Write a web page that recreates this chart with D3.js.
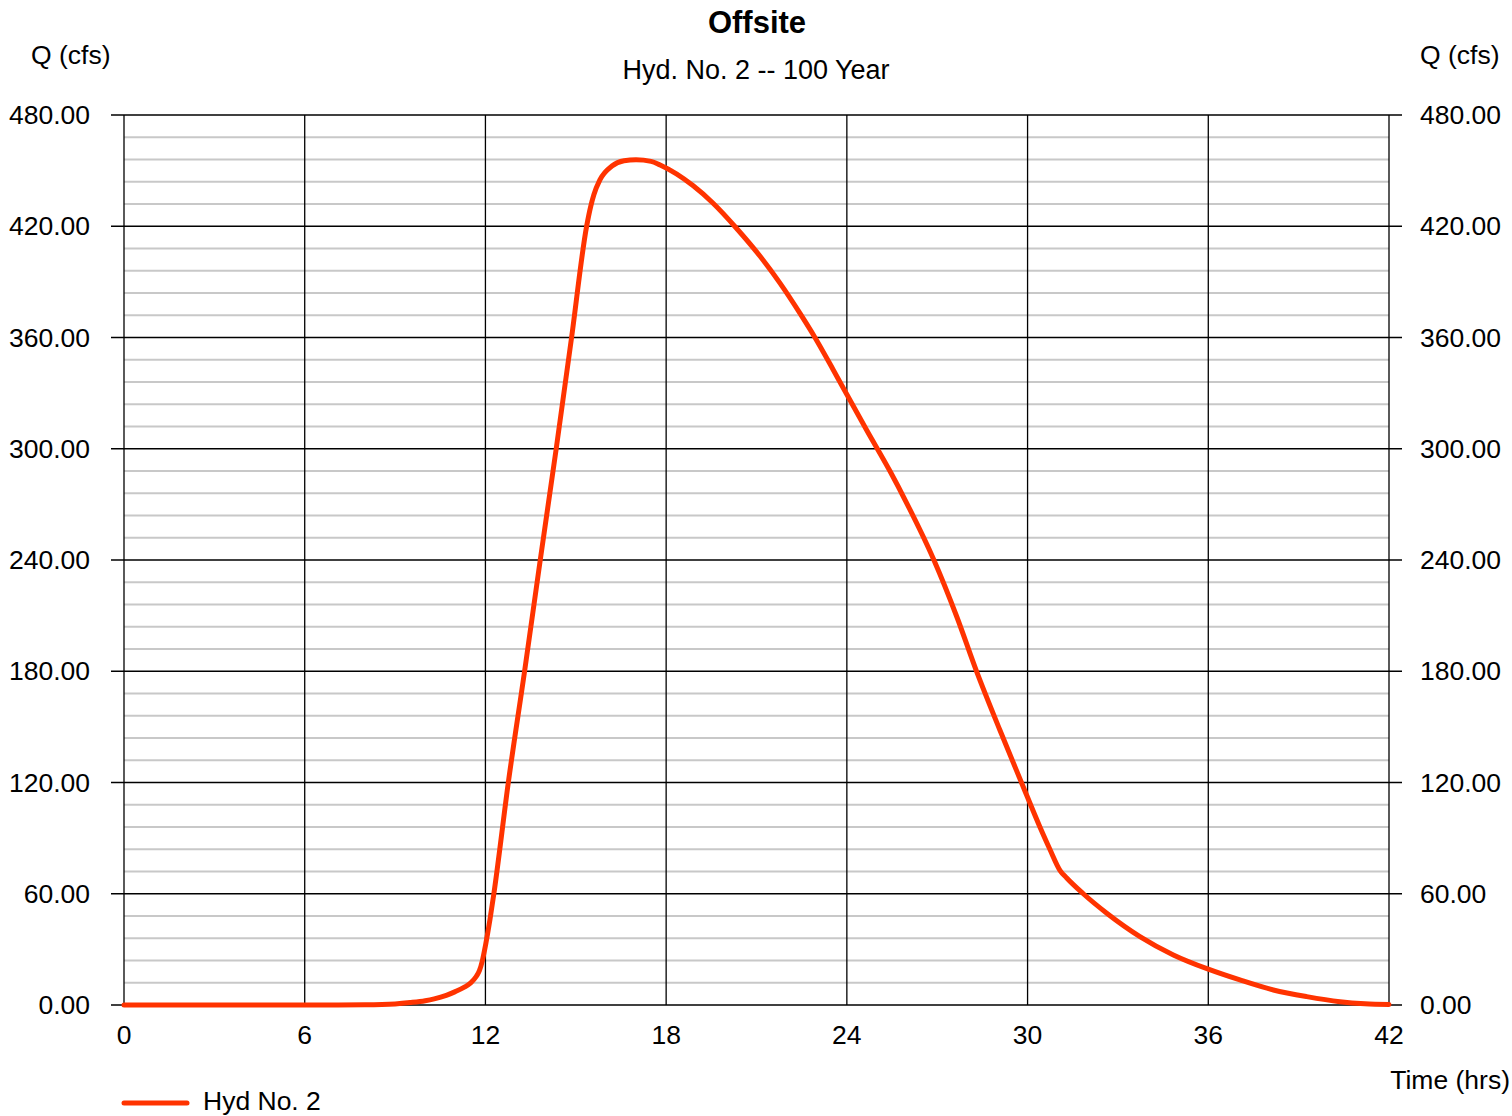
<!DOCTYPE html>
<html>
<head>
<meta charset="utf-8">
<script src="https://cdn.jsdelivr.net/npm/d3@7"></script>
<style>
  body { margin: 0; background: #fff; }
  svg { display: block; font-family: "Liberation Sans", Arial, sans-serif; }
</style>
</head>
<body>
<div class="chart"></div>
<script>
// hydrograph readings, time (hrs) and flow (cfs)
const hours = [0, 2, 4, 6, 7, 8, 9, 9.5, 10, 10.3, 10.7, 11, 11.3, 11.5, 11.7, 11.8, 11.9, 12,
  12.15, 12.28, 12.76, 13.3, 13.82, 14.35, 14.86, 15.36, 15.5, 15.6, 15.8, 16.2, 16.6, 17, 17.5, 17.8,
  18.9, 19.56, 20.32, 21.12, 21.78, 22.44, 22.94, 23.55, 24.01, 24.66, 25.43, 25.99, 26.89, 27.65,
  28.31, 29.08, 29.8, 30.41, 30.74, 31.08, 31.3, 31.85, 32.63, 33.73, 34.84, 36, 37.05, 38.16,
  39.27, 40.37, 41.2, 42];
const flows = [0, 0, 0, 0, 0, 0.1, 0.6, 1.3, 2.3, 3.3, 5.2, 7.2, 9.6, 11.8, 15.5, 18.5, 24, 32,
  46, 60, 120, 180, 240, 300, 360, 420, 431, 437, 445, 452.5, 455.3, 455.8, 455, 453,
  441.8, 432.4, 419.2, 403.8, 389.3, 373.1, 360, 342.5, 329, 310, 288, 270.6, 240, 209.4,
  179.8, 148.3, 119.9, 96, 84, 72.5, 68.5, 60, 49.5, 36.9, 27, 19.3, 13.5, 8.1,
  4.5, 1.8, 0.7, 0.3];

const xTicks = [0, 6, 12, 18, 24, 30, 36, 42];
const yMajor = [0, 60, 120, 180, 240, 300, 360, 420, 480];
const yMinorStep = 12;

const title = "Offsite";
const subtitle = "Hyd. No. 2 -- 100 Year";
const yLabel = "Q (cfs)";
const xLabel = "Time (hrs)";
const seriesName = "Hyd No. 2";

const draw = () => {
  const width = 1512;
  const height = 1116;
  const margin = { top: 115, right: 123, bottom: 111, left: 124 };
  const lineColor = "#ff3300";
  const fs = 26.5;

  const svg = d3.select(".chart")
    .append("svg")
    .attr("width", width)
    .attr("height", height);

  const x = d3.scaleLinear().domain([0, 42]).range([margin.left, width - margin.right]);
  const y = d3.scaleLinear().domain([0, 480]).range([height - margin.bottom, margin.top]);

  // minor grid every 12 cfs
  const minor = d3.range(0, 481, yMinorStep).filter(v => v % 60 !== 0);
  svg.append("g")
    .selectAll("line")
    .data(minor)
    .join("line")
    .attr("x1", x(0)).attr("x2", x(42))
    .attr("y1", d => y(d)).attr("y2", d => y(d))
    .attr("stroke", "#c8c8c8")
    .attr("stroke-width", 2);

  // major horizontals, with ticks sticking out both sides
  svg.append("g")
    .selectAll("line")
    .data(yMajor)
    .join("line")
    .attr("x1", x(0) - 13).attr("x2", x(42) + 13)
    .attr("y1", d => y(d)).attr("y2", d => y(d))
    .attr("stroke", "#000")
    .attr("stroke-width", 1.3);

  // verticals
  svg.append("g")
    .selectAll("line")
    .data(xTicks)
    .join("line")
    .attr("x1", d => x(d)).attr("x2", d => x(d))
    .attr("y1", y(480)).attr("y2", y(0))
    .attr("stroke", "#000")
    .attr("stroke-width", 1.3);

  // y labels both sides
  const fmt = d3.format(".2f");
  svg.append("g")
    .selectAll("text")
    .data(yMajor)
    .join("text")
    .attr("x", 90)
    .attr("y", d => y(d) + 9)
    .attr("text-anchor", "end")
    .attr("font-size", fs)
    .text(d => fmt(d));

  svg.append("g")
    .selectAll("text")
    .data(yMajor)
    .join("text")
    .attr("x", 1420)
    .attr("y", d => y(d) + 9)
    .attr("font-size", fs)
    .text(d => fmt(d));

  // x labels
  svg.append("g")
    .selectAll("text")
    .data(xTicks)
    .join("text")
    .attr("x", d => x(d))
    .attr("y", 1044)
    .attr("text-anchor", "middle")
    .attr("font-size", fs)
    .text(d => d);

  // the hydrograph
  const data = hours.map((h, i) => ({ t: h, q: flows[i] }));
  svg.append("path")
    .datum(data)
    .attr("fill", "none")
    .attr("stroke", lineColor)
    .attr("stroke-width", 5)
    .attr("stroke-linejoin", "round")
    .attr("stroke-linecap", "round")
    .attr("d", d3.line()
      .x(d => x(d.t))
      .y(d => y(d.q))
      .curve(d3.curveMonotoneX));

  // titles
  svg.append("text")
    .attr("x", 757).attr("y", 33)
    .attr("text-anchor", "middle")
    .attr("font-size", 31)
    .attr("font-weight", "bold")
    .text(title);
  svg.append("text")
    .attr("x", 756).attr("y", 79)
    .attr("text-anchor", "middle")
    .attr("font-size", fs + 0.5)
    .text(subtitle);

  svg.append("text").attr("x", 31).attr("y", 64).attr("font-size", fs).text(yLabel);
  svg.append("text").attr("x", 1420).attr("y", 64).attr("font-size", fs).text(yLabel);
  svg.append("text").attr("x", 1510).attr("y", 1089)
    .attr("text-anchor", "end").attr("font-size", fs).text(xLabel);

  // legend
  svg.append("line")
    .attr("x1", 124).attr("x2", 187)
    .attr("y1", 1103).attr("y2", 1103)
    .attr("stroke", lineColor)
    .attr("stroke-width", 5)
    .attr("stroke-linecap", "round");
  svg.append("text").attr("x", 203).attr("y", 1110).attr("font-size", fs).text(seriesName);
};

draw();
</script>
</body>
</html>
